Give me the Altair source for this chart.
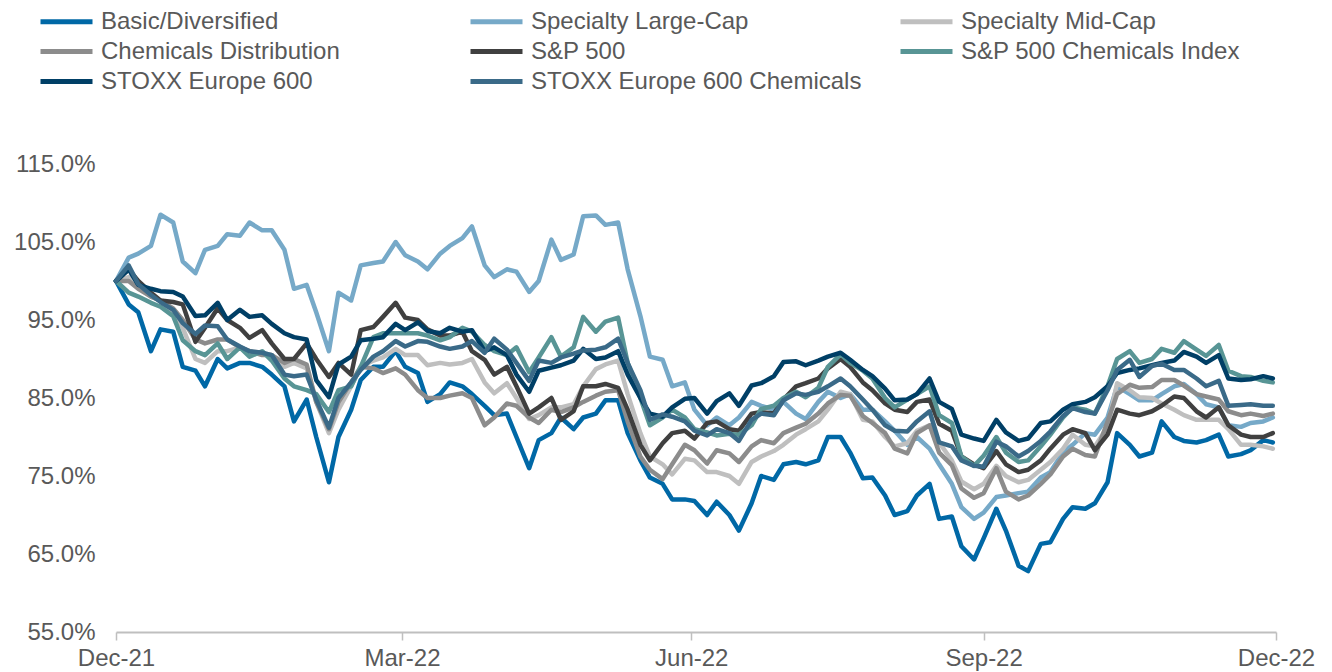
import altair as alt
import pandas as pd

series_names = [
    "Basic/Diversified", "Specialty Large-Cap", "Specialty Mid-Cap",
    "Chemicals Distribution", "S&P 500", "S&P 500 Chemicals Index",
    "STOXX Europe 600", "STOXX Europe 600 Chemicals",
]
series_colors = [
    "#0068A6", "#76A9C8", "#BFBFBF", "#8C8C8C",
    "#404040", "#589595", "#003F66", "#3A6A88",
]

# twice-weekly observations (Fri / Tue), 31-Dec-2021 .. 30-Dec-2022
start = pd.Timestamp("2021-12-31")
dates = []
for k in range(53):
    dates.append((start + pd.Timedelta(days=7 * k)).strftime("%Y-%m-%d"))
    if k < 52:
        dates.append((start + pd.Timedelta(days=7 * k + 4)).strftime("%Y-%m-%d"))

basic_diversified = [
    100, 97, 96, 91, 93.8, 93.5, 89, 88.5, 86.5, 90, 88.8, 89.5, 89.5, 89, 88, 86.5,
    82, 84.8, 80, 74.2, 80, 83.5, 87.3, 89, 89, 91, 89, 88.2, 84.5, 85.5, 87, 86.5,
    85.5, 84, 82.8, 83, 80, 76, 79.6, 80.5, 82.5, 81, 82.5, 83, 84.7, 84.7, 80.5, 77,
    74.8, 74, 72, 72, 71.8, 70, 71.7, 70, 68, 71.5, 75, 74.5, 76.5, 76.8, 76.5, 77,
    80, 80, 78, 74.7, 74.8, 72.5, 70, 70.5, 72.5, 74, 69.5, 69.8, 66, 64.3, 67, 70.8,
    68, 63.5, 62.8, 66.3, 66.5, 69.5, 71, 70.8, 71.5, 74.2, 80.5, 79, 77.5, 78, 82, 80,
    79.5, 79.3, 79.6, 80.3, 77.5, 77.8, 78.3, 79.6, 79.3]
specialty_large_cap = [
    100, 103, 103.5, 104.5, 108.5, 107.5, 102.5, 101, 104, 104.5, 106, 105.8, 107.5, 106.5, 106.5, 104,
    99, 99.5, 96, 91, 98.5, 97.5, 102, 102.3, 102.5, 105, 103.3, 102.5, 101.5, 103.5, 104.5, 105.5,
    107, 102, 100.5, 101.5, 101.2, 98.6, 100, 105.3, 102.7, 103.4, 108.3, 108.4, 107.2, 107.5, 101.5, 95.5,
    90.3, 89.9, 86.5, 87, 83.5, 81.5, 82.5, 81.5, 82.5, 84.5, 84, 83.5, 84.5, 83, 82.3, 84.5,
    85.8, 85, 85.5, 83.5, 83.5, 82, 80.8, 79, 80, 78.5, 76.5, 74, 71, 69.5, 70.3, 72.3,
    72.5, 72.8, 73, 74.8, 75.5, 78, 79, 80.5, 80.3, 82.5, 86.5, 85.5, 84.7, 84.7, 85.5, 86.5,
    86.8, 85.5, 84.2, 83.8, 81.5, 81.3, 81.8, 82, 82.5]
specialty_mid_cap = [
    100, 100.5, 99.5, 98, 97.5, 96, 94, 90, 89.5, 91, 91, 91.5, 91, 90.8, 90.5, 89,
    89.5, 88.8, 84.5, 80.5, 83.5, 86.5, 89, 89.8, 90.2, 91.3, 90.5, 90.5, 89.2, 89.5, 89.3, 89.5,
    90, 87, 85.6, 86.9, 85, 82.3, 82.8, 83.8, 83.8, 84.2, 86.5, 88.7, 89.3, 89.8, 85.5, 80.5,
    77.5, 76.5, 75.2, 77.2, 77, 75.5, 75.5, 75, 74, 76.8, 77.5, 78.2, 79, 80.3, 81, 82,
    83.5, 85.8, 85.5, 82.2, 82, 80, 78.8, 79.2, 80.8, 81.5, 79.3, 77, 74.3, 73.3, 74, 76.3,
    75, 74.2, 74.5, 75.8, 76.8, 78.5, 80.3, 79, 78.8, 81.3, 86.9, 86, 85.1, 85, 84.3, 83.5,
    82.8, 82.2, 82.2, 82.2, 81, 79, 79, 78.8, 78.5]
chemicals_distribution = [
    100, 100, 99, 98, 97.5, 96.5, 95, 92.5, 92, 92.5, 92.5, 91.5, 91, 90.5, 90.5, 89.5,
    90, 89.3, 84.5, 81, 84.5, 87, 89, 88.8, 88.2, 88.8, 88, 86, 85, 85, 85.3, 85.6,
    85, 81.5, 82.5, 84.3, 84, 82.5, 81.8, 83.5, 83.2, 83.8, 84.5, 85.3, 85.8, 86, 82, 77.5,
    75.8, 74.6, 76.5, 79, 78.3, 76.6, 78.3, 77.9, 76.8, 78.8, 79.6, 79.2, 80.5, 81.2, 81.7, 83,
    84.3, 85.4, 85.3, 82.7, 81.8, 80.5, 78.5, 77.9, 80.5, 81.5, 78, 76.4, 73.4, 72.2, 72.8, 76,
    73, 72, 72.5, 74, 75.2, 77.5, 78.5, 77.7, 77.5, 82, 85.5, 86.7, 86.3, 86.4, 87.3, 87.3,
    86.6, 85.5, 85.2, 84.8, 83.3, 82.8, 83, 82.7, 83]
sp500 = [
    100, 101.5, 100, 98.5, 97.5, 97.3, 97, 92.2, 94, 96.5, 95, 94, 92.7, 93.7, 92, 90,
    90, 92, 90, 87.7, 89.5, 88, 93.7, 94.1, 95.4, 97.2, 95.3, 95, 93.8, 93, 93, 93.5,
    91, 89.9, 88, 89, 86.5, 83, 83.8, 85, 82.2, 83.3, 86.5, 86.5, 86.8, 86.3, 83.5, 79,
    77, 79.2, 80.5, 80.8, 79.8, 81.8, 82, 81, 80.8, 83, 83.2, 83, 84.8, 86.5, 86.9, 87.5,
    88.8, 90, 89, 87, 86, 84.3, 83.5, 83.2, 84.5, 84.8, 81.7, 80.8, 77.5, 76.5, 76, 78.2,
    76.5, 75.5, 75.8, 77, 78.5, 80.3, 81, 80.5, 78.3, 80.3, 83.5, 83, 82.8, 83.3, 84, 85.2,
    85, 83.3, 82.5, 83.8, 81.5, 80.3, 80, 80, 80.5]
sp500_chemicals = [
    100, 98.5, 98, 97.2, 96.7, 95.5, 92.4, 91, 90.5, 92, 90, 91.5, 90.3, 91, 89.8, 87.5,
    86.5, 86, 85.5, 83.2, 86, 86.5, 89, 92.8, 93.3, 93.3, 93.3, 93.3, 93, 92.4, 92.8, 94,
    93.5, 91.8, 91, 90.5, 91.5, 88.3, 90.2, 92.8, 90.3, 91.5, 95.4, 93.5, 94.8, 95.3, 89.5, 85,
    81.5, 82.5, 83.5, 82.5, 81, 80.6, 80.2, 80.4, 80.3, 81.5, 83.6, 84, 85, 85.8, 85.1, 86.3,
    89, 90.6, 89.5, 88.5, 87.5, 85, 83.8, 84.8, 85.5, 86.5, 82.8, 81.8, 77.5, 76.3, 77.6, 80,
    78, 76.8, 77, 78.8, 80.3, 82.5, 83.8, 83.5, 83, 86.5, 90, 91, 89.5, 90, 91.3, 90.8,
    92.3, 91.2, 90.4, 91.8, 88.5, 87.8, 87.7, 87.2, 87]
stoxx600 = [
    100, 101.5, 99.5, 99, 98.7, 98.6, 98, 95.5, 95.6, 97.2, 95, 96.3, 95.4, 95.6, 94.5, 93.3,
    92.8, 92.5, 87.3, 85.1, 89.3, 90.3, 92.4, 92.6, 92.8, 94.5, 93.7, 94.7, 93.6, 93.3, 94, 93.5,
    93.7, 91, 91.5, 90.5, 88, 85.8, 88.5, 88.9, 89.2, 89.8, 91.3, 90, 90.2, 91, 88, 85,
    83, 82.6, 83.8, 84.9, 85, 83, 84.6, 85.6, 84, 86.6, 86.9, 87.8, 89.6, 89.7, 89.2, 89.8,
    90.3, 90.8, 89.9, 88.6, 87.8, 86.2, 84.7, 84.8, 85.5, 87.5, 84.5, 83.6, 80.3, 79.8, 79.5, 82.2,
    80.6, 79.5, 79.8, 81.8, 82, 83.5, 84.2, 84.5, 85.1, 86.5, 88.2, 88.6, 88.8, 89.2, 89.5, 89.8,
    90.9, 90.3, 89.5, 90.5, 87.5, 87.3, 87.4, 87.8, 87.5]
stoxx600_chemicals = [
    100, 102, 99.6, 98.2, 97.3, 96.3, 94.6, 93.2, 94.3, 94.2, 92.5, 91.6, 91, 90.8, 90.5, 88,
    87.8, 88, 84.8, 81.2, 85, 87, 88.6, 90.3, 91, 92.3, 91.6, 92.3, 92.2, 91.6, 91.3, 91.6,
    92.3, 90.8, 92.6, 91.2, 89.5, 87.2, 89.8, 89.5, 90.2, 90.7, 91.1, 91.2, 91.5, 92.6, 89.5, 86,
    82.2, 82.9, 82.6, 82, 80.8, 80.2, 81, 80.5, 79.5, 82.2, 83, 82.8, 84.7, 85.6, 85.4, 85.8,
    86.5, 87.5, 86.5, 84.8, 83.5, 81.5, 80.8, 80.7, 82, 83.3, 79.3, 78.8, 77, 76.3, 76.2, 79.4,
    78.8, 77.5, 78.2, 79.5, 80.7, 82.7, 83.7, 83.2, 83, 86, 88.6, 89.9, 87.7, 89.1, 89.4, 88.6,
    88.6, 87.5, 86.5, 87.2, 84, 84.1, 84.2, 84, 84]

y_ticks = [55, 65, 75, 85, 95, 105, 115]

all_values = [basic_diversified, specialty_large_cap, specialty_mid_cap, chemicals_distribution,
              sp500, sp500_chemicals, stoxx600, stoxx600_chemicals]

rows = []
for name, vals in zip(series_names, all_values):
    for d, v in zip(dates, vals):
        rows.append({"date": d, "value": v, "series": name})
df = pd.DataFrame(rows)

FONT = "Liberation Sans"
TEXT = "#595959"
FS = 24

def dt(y, m, d):
    return alt.DateTime(year=y, month=m, date=d, utc=True)

x_enc = alt.X(
    "date:T",
    scale=alt.Scale(type="utc", domain=[dt(2021, 12, 31), dt(2022, 12, 31)]),
    axis=alt.Axis(
        values=[dt(2021, 12, 31), dt(2022, 3, 31), dt(2022, 6, 30), dt(2022, 9, 30), dt(2022, 12, 31)],
        labelExpr="utcFormat(datum.value, '%b-%y')", title=None, grid=False,
        domainColor="#BFBFBF", domainWidth=2, tickColor="#BFBFBF", tickWidth=1.5, tickSize=8,
        labelFont=FONT, labelFontSize=FS, labelColor=TEXT, labelPadding=6,
        labelOverlap=False, labelFlush=False,
    ),
)
y_enc = alt.Y(
    "value:Q",
    scale=alt.Scale(domain=[55, 115], nice=False, zero=False),
    axis=alt.Axis(
        values=y_ticks, labelExpr="format(datum.value, '.1f') + '%'", title=None,
        grid=False, domain=False, ticks=False,
        labelFont=FONT, labelFontSize=FS, labelColor=TEXT, labelPadding=21,
    ),
)
# long horizontal line symbol with a small nominal size (keeps legend rows compact)
legend = alt.Legend(
    title=None, orient="none", legendX=-78, legendY=-155, columns=3, gridAlign="all",
    direction="horizontal", columnPadding=28, rowPadding=5, padding=0,
    symbolType="M-1,0H4.2", symbolSize=400, symbolStrokeWidth=5, symbolOpacity=1,
    labelFont=FONT, labelFontSize=FS, labelColor=TEXT, labelOffset=38, labelLimit=600,
)
color_enc = alt.Color("series:N", scale=alt.Scale(domain=series_names, range=series_colors),
                      legend=legend, sort=series_names)

layers = []
for name in series_names:
    layers.append(
        alt.Chart(df)
        .transform_filter(alt.datum.series == name)
        .mark_line(strokeWidth=4.5, strokeJoin="round", strokeCap="round")
        .encode(x=x_enc, y=y_enc, color=color_enc)
    )

chart = (
    alt.layer(*layers)
    .properties(
        width=1160, height=468,
        autosize=alt.AutoSizeParams(type="none"),
        padding={"left": 116, "top": 164, "right": 56, "bottom": 40},
        background="white",
    )
    .configure_view(stroke=None)
)

chart.save("out.html", embed_options={"renderer": "svg", "actions": False})
